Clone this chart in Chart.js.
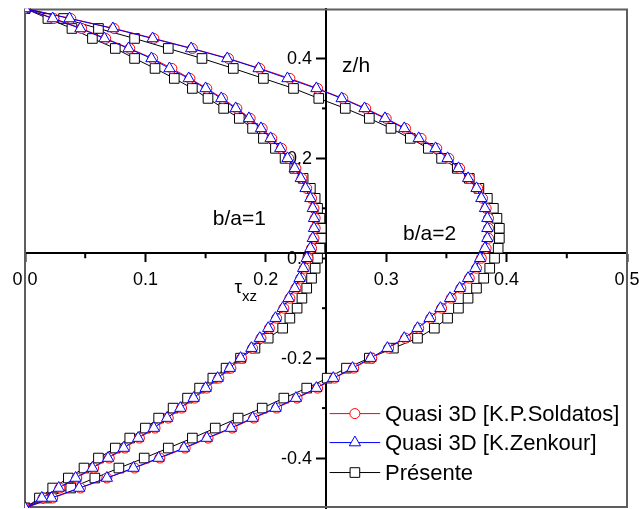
<!DOCTYPE html>
<html>
<head>
<meta charset="utf-8">
<script src="https://cdn.jsdelivr.net/npm/chart.js@4.4.1/dist/chart.umd.min.js"></script>
<style>
  html, body { margin: 0; padding: 0; background: #fff; overflow: hidden; }
</style>
</head>
<body>
<!-- canvas runs a little past the window bottom so the plot frame can reach y=508 -->
<canvas id="chart" width="639" height="520"></canvas>
<script>
// z/h positions through the thickness (same grid for every curve)
const zValues = [0.50, 0.48, 0.46, 0.44, 0.42, 0.40, 0.38, 0.36, 0.34, 0.32,
  0.30, 0.28, 0.26, 0.24, 0.22, 0.20, 0.18, 0.16, 0.14, 0.12,
  0.10, 0.08, 0.06, 0.04, 0.02, 0.00, -0.02, -0.04, -0.06, -0.08,
  -0.10, -0.12, -0.14, -0.16, -0.18, -0.20, -0.22, -0.24, -0.26, -0.28,
  -0.30, -0.32, -0.34, -0.36, -0.38, -0.40, -0.42, -0.44, -0.46, -0.48, -0.50];

// tau_xz, b/a = 1
const soldatosBa1 = [0.000, 0.024, 0.047, 0.067, 0.087, 0.106, 0.122, 0.137, 0.151, 0.164,
  0.176, 0.187, 0.197, 0.205, 0.213, 0.219, 0.225, 0.230, 0.234, 0.238,
  0.240, 0.241, 0.241, 0.240, 0.238, 0.235, 0.232, 0.229, 0.225, 0.220,
  0.215, 0.209, 0.203, 0.196, 0.189, 0.180, 0.171, 0.161, 0.151, 0.141,
  0.130, 0.119, 0.108, 0.095, 0.083, 0.070, 0.057, 0.043, 0.029, 0.015, 0.000];
const zenkourBa1 = [0.000, 0.023, 0.046, 0.066, 0.086, 0.105, 0.120, 0.136, 0.150, 0.163,
  0.175, 0.186, 0.196, 0.204, 0.212, 0.218, 0.224, 0.229, 0.233, 0.237,
  0.239, 0.240, 0.240, 0.239, 0.237, 0.234, 0.231, 0.228, 0.224, 0.219,
  0.214, 0.208, 0.202, 0.195, 0.188, 0.179, 0.170, 0.160, 0.150, 0.140,
  0.129, 0.118, 0.107, 0.094, 0.082, 0.069, 0.056, 0.042, 0.028, 0.014, 0.000];
const presenteBa1 = [0.000, 0.019, 0.039, 0.056, 0.075, 0.091, 0.108, 0.124, 0.139, 0.152,
  0.165, 0.178, 0.189, 0.198, 0.208, 0.216, 0.224, 0.231, 0.237, 0.241,
  0.243, 0.245, 0.246, 0.246, 0.245, 0.243, 0.241, 0.238, 0.234, 0.230,
  0.226, 0.220, 0.214, 0.202, 0.191, 0.179, 0.167, 0.156, 0.145, 0.135,
  0.123, 0.111, 0.100, 0.087, 0.075, 0.061, 0.049, 0.036, 0.023, 0.012, 0.000];

// tau_xz, b/a = 2
const soldatosBa2 = [0.000, 0.038, 0.074, 0.107, 0.139, 0.169, 0.195, 0.220, 0.243, 0.264,
  0.283, 0.300, 0.316, 0.329, 0.342, 0.352, 0.361, 0.369, 0.376, 0.380,
  0.383, 0.385, 0.385, 0.385, 0.383, 0.379, 0.375, 0.369, 0.362, 0.354,
  0.346, 0.337, 0.327, 0.316, 0.302, 0.288, 0.273, 0.257, 0.243, 0.226,
  0.209, 0.190, 0.172, 0.152, 0.133, 0.112, 0.091, 0.068, 0.046, 0.023, 0.000];
const zenkourBa2 = [0.000, 0.037, 0.073, 0.106, 0.138, 0.168, 0.194, 0.218, 0.242, 0.263,
  0.282, 0.299, 0.315, 0.327, 0.341, 0.351, 0.360, 0.368, 0.375, 0.379,
  0.382, 0.384, 0.384, 0.384, 0.382, 0.378, 0.374, 0.368, 0.361, 0.353,
  0.345, 0.336, 0.326, 0.315, 0.301, 0.287, 0.272, 0.256, 0.242, 0.225,
  0.208, 0.189, 0.171, 0.151, 0.132, 0.111, 0.090, 0.068, 0.045, 0.022, 0.000];
const presenteBa2 = [0.000, 0.032, 0.061, 0.091, 0.119, 0.147, 0.173, 0.198, 0.223, 0.244,
  0.266, 0.286, 0.304, 0.320, 0.335, 0.346, 0.359, 0.369, 0.377, 0.384,
  0.389, 0.392, 0.394, 0.394, 0.393, 0.390, 0.386, 0.381, 0.375, 0.368,
  0.360, 0.351, 0.340, 0.326, 0.306, 0.286, 0.267, 0.251, 0.234, 0.215,
  0.197, 0.177, 0.158, 0.139, 0.119, 0.099, 0.078, 0.058, 0.038, 0.018, 0.000];

const seriesNames = ["Quasi 3D [K.P.Soldatos]", "Quasi 3D [K.Zenkour]", "Présente"];
const xTicks = [0.0, 0.1, 0.2, 0.3, 0.4, 0.5];
const xMinorTicks = [0.05, 0.15, 0.25, 0.35, 0.45];
const yTicks = [-0.4, -0.2, 0.0, 0.2, 0.4];
const yMinorTicks = [-0.3, -0.1, 0.1, 0.3];

const FONT = "'Liberation Sans', Arial, sans-serif";

const toPoints = (taus) => zValues.map((z, i) => ({ x: taus[i], y: z }));

const styles = [
  { color: "#ff0000", pointStyle: "circle", pointRadius: 5, order: 2 },
  { color: "#0000ff", pointStyle: "triangle", pointRadius: 6.5, order: 1 },
  { color: "#000000", pointStyle: "rect", pointRadius: 6.8, order: 3 },
];

const makeSet = (name, taus, s) => ({
  label: name,
  data: toPoints(taus),
  showLine: true,
  borderColor: s.color,
  borderWidth: 1,
  pointStyle: s.pointStyle,
  pointRadius: s.pointRadius,
  pointBorderColor: s.color,
  pointBackgroundColor: "#ffffff",
  pointBorderWidth: 1,
  order: s.order,
});

const datasets = [
  makeSet(seriesNames[0], soldatosBa1, styles[0]),
  makeSet(seriesNames[0], soldatosBa2, styles[0]),
  makeSet(seriesNames[1], zenkourBa1, styles[1]),
  makeSet(seriesNames[1], zenkourBa2, styles[1]),
  makeSet(seriesNames[2], presenteBa1, styles[2]),
  makeSet(seriesNames[2], presenteBa2, styles[2]),
];

// frame, minor ticks, y labels and text notes, placed through the scales
const decor = {
  id: "decor",
  beforeDatasetsDraw(chart) {
    const { ctx, chartArea: a, scales: { x, y } } = chart;
    ctx.save();
    ctx.strokeStyle = "#5e5e5e";
    ctx.lineWidth = 2;
    ctx.strokeRect(a.left, a.top + 1, a.right - a.left, a.bottom - a.top - 2);

    ctx.strokeStyle = "#000";
    ctx.lineWidth = 2;
    const xAxisY = y.getPixelForValue(0.01);
    xMinorTicks.forEach((v) => {
      const px = x.getPixelForValue(v);
      ctx.beginPath();
      ctx.moveTo(px, xAxisY);
      ctx.lineTo(px, xAxisY + 5);
      ctx.stroke();
    });
    const yAxisX = x.getPixelForValue(0.25);
    yMinorTicks.forEach((v) => {
      const py = y.getPixelForValue(v);
      ctx.beginPath();
      ctx.moveTo(yAxisX, py);
      ctx.lineTo(yAxisX - 4, py);
      ctx.stroke();
    });

    // y tick labels, to the left of the centred axis
    ctx.fillStyle = "#000";
    ctx.font = "18px " + FONT;
    ctx.textAlign = "right";
    ctx.textBaseline = "middle";
    yTicks.forEach((v) => {
      ctx.fillText(v.toFixed(1), yAxisX - 14, y.getPixelForValue(v) + 1);
    });

    ctx.textAlign = "center";
    ctx.font = "21px " + FONT;
    ctx.fillText("b/a=1", x.getPixelForValue(0.178), y.getPixelForValue(0.079));
    ctx.fillText("b/a=2", x.getPixelForValue(0.336), y.getPixelForValue(0.049));
    ctx.fillText("z/h", x.getPixelForValue(0.275), y.getPixelForValue(0.385));

    ctx.textAlign = "left";
    ctx.textBaseline = "alphabetic";
    const tx = x.getPixelForValue(0.174);
    const ty = y.getPixelForValue(-0.07);
    ctx.font = "19px " + FONT;
    ctx.fillText("τ", tx, ty);
    const w = ctx.measureText("τ").width;
    ctx.font = "15px " + FONT;
    ctx.fillText("xz", tx + w, ty + 8);
    ctx.restore();
  },
  afterDatasetsDraw(chart) {
    const { ctx, scales: { x, y } } = chart;
    const rows = [-0.311, -0.369, -0.429];
    ctx.save();
    styles.forEach((s, i) => {
      const py = y.getPixelForValue(rows[i]);
      const x0 = x.getPixelForValue(0.253);
      const x1 = x.getPixelForValue(0.295);
      const xm = x.getPixelForValue(0.274);
      ctx.strokeStyle = s.color;
      ctx.lineWidth = 1;
      ctx.beginPath();
      ctx.moveTo(x0, py);
      ctx.lineTo(x1, py);
      ctx.stroke();
      ctx.fillStyle = "#fff";
      ctx.beginPath();
      const r = s.pointRadius;
      if (s.pointStyle === "circle") {
        ctx.arc(xm, py, r, 0, Math.PI * 2);
      } else if (s.pointStyle === "triangle") {
        ctx.moveTo(xm, py - r);
        ctx.lineTo(xm + r * 0.866, py + r * 0.5);
        ctx.lineTo(xm - r * 0.866, py + r * 0.5);
        ctx.closePath();
      } else {
        const h = r * Math.SQRT1_2;
        ctx.rect(xm - h, py - h, 2 * h, 2 * h);
      }
      ctx.fill();
      ctx.stroke();
      ctx.fillStyle = "#000";
      ctx.font = "22px " + FONT;
      ctx.textAlign = "left";
      ctx.textBaseline = "middle";
      ctx.fillText(seriesNames[i], x.getPixelForValue(0.299), py + 1);
    });
    ctx.restore();
  },
};

const noPad = (s) => {
  s.paddingTop = 0;
  s.paddingBottom = 0;
  s.paddingLeft = 0;
  s.paddingRight = 0;
};

new Chart(document.getElementById("chart"), {
  type: "scatter",
  data: { datasets },
  options: {
    responsive: false,
    animation: false,
    devicePixelRatio: 1,
    layout: { padding: { left: 25, right: 12, top: 8.5, bottom: 12 } },
    plugins: { legend: { display: false }, tooltip: { enabled: false } },
    scales: {
      x: {
        type: "linear",
        min: 0,
        max: 0.5,
        position: { y: 0.01 },
        afterBuildTicks: (s) => { s.ticks = xTicks.map((v) => ({ value: v })); },
        afterFit: noPad,
        ticks: {
          callback: (v) => Number(v).toFixed(1),
          color: "#000",
          font: { family: FONT, size: 18 },
          padding: 8,
          maxRotation: 0,
          autoSkip: false,
        },
        grid: { drawOnChartArea: false, drawTicks: true, tickLength: 8, tickColor: "#000", tickWidth: 2 },
        border: { color: "#000", width: 2 },
      },
      y: {
        type: "linear",
        min: -0.5,
        max: 0.5,
        position: { x: 0.25 },
        afterBuildTicks: (s) => { s.ticks = yTicks.map((v) => ({ value: v })); },
        afterFit: noPad,
        ticks: { display: false },
        grid: { drawOnChartArea: false, drawTicks: true, tickLength: 9, tickColor: "#000", tickWidth: 2 },
        border: { color: "#000", width: 2 },
      },
    },
  },
  plugins: [decor],
});
</script>
</body>
</html>
